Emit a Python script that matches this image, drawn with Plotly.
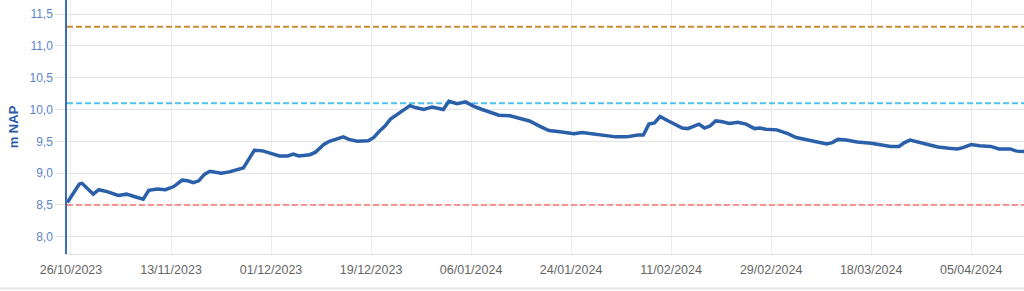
import plotly.graph_objects as go

dates = [
    "2023-10-25 08:00", "2023-10-27 12:00", "2023-10-28", "2023-10-30", "2023-10-31",
    "2023-11-01 12:00", "2023-11-03 12:00", "2023-11-05", "2023-11-06 12:00", "2023-11-08",
    "2023-11-09", "2023-11-10 12:00", "2023-11-12", "2023-11-13 12:00", "2023-11-15",
    "2023-11-16", "2023-11-17", "2023-11-18", "2023-11-19", "2023-11-20",
    "2023-11-22", "2023-11-23 12:00", "2023-11-26", "2023-11-27", "2023-11-28",
    "2023-11-29 12:00", "2023-12-01", "2023-12-02 12:00", "2023-12-04", "2023-12-05",
    "2023-12-06", "2023-12-08", "2023-12-09", "2023-12-10 12:00", "2023-12-11 12:00",
    "2023-12-13", "2023-12-14", "2023-12-15", "2023-12-16 12:00", "2023-12-18 12:00",
    "2023-12-19 12:00", "2023-12-20 12:00", "2023-12-21 12:00", "2023-12-22 12:00", "2023-12-23 12:00",
    "2023-12-24", "2023-12-25", "2023-12-26", "2023-12-27", "2023-12-28 12:00",
    "2023-12-30", "2024-01-01", "2024-01-02", "2024-01-03 12:00", "2024-01-05",
    "2024-01-06 12:00", "2024-01-08", "2024-01-09 12:00", "2024-01-11", "2024-01-13",
    "2024-01-14 12:00", "2024-01-16 12:00", "2024-01-18 12:00", "2024-01-20", "2024-01-22",
    "2024-01-24 12:00", "2024-01-26", "2024-01-28", "2024-01-30 12:00", "2024-02-01",
    "2024-02-03", "2024-02-05", "2024-02-06", "2024-02-07", "2024-02-08",
    "2024-02-09", "2024-02-10 12:00", "2024-02-12", "2024-02-13", "2024-02-14",
    "2024-02-15", "2024-02-16", "2024-02-17", "2024-02-18", "2024-02-19",
    "2024-02-20", "2024-02-21 12:00", "2024-02-23", "2024-02-24 12:00", "2024-02-26",
    "2024-02-27", "2024-02-28", "2024-03-01", "2024-03-03", "2024-03-04 12:00",
    "2024-03-07", "2024-03-09", "2024-03-10", "2024-03-11", "2024-03-12",
    "2024-03-13 12:00", "2024-03-15 12:00", "2024-03-18", "2024-03-20", "2024-03-21 12:00",
    "2024-03-23", "2024-03-24", "2024-03-25", "2024-03-26", "2024-03-28",
    "2024-03-30", "2024-04-01", "2024-04-02 12:00", "2024-04-03 12:00", "2024-04-05",
    "2024-04-06 12:00", "2024-04-08 12:00", "2024-04-10", "2024-04-12", "2024-04-13",
    "2024-04-14 12:00",
]

levels = [
    8.54, 8.83, 8.84, 8.67, 8.74,
    8.71, 8.65, 8.67, 8.63, 8.59,
    8.73, 8.75, 8.74, 8.79, 8.89,
    8.88, 8.85, 8.88, 8.98, 9.03,
    9.00, 9.02, 9.08, 9.22, 9.36,
    9.35, 9.31, 9.27, 9.27, 9.30,
    9.27, 9.29, 9.33, 9.45, 9.50,
    9.54, 9.57, 9.53, 9.50, 9.51,
    9.56, 9.66, 9.74, 9.85, 9.91,
    9.94, 10.01, 10.06, 10.03, 10.00,
    10.04, 10.00, 10.13, 10.09, 10.12,
    10.05, 10.00, 9.96, 9.91, 9.90,
    9.87, 9.82, 9.73, 9.67, 9.65,
    9.62, 9.64, 9.62, 9.59, 9.57,
    9.57, 9.60, 9.60, 9.77, 9.79,
    9.89, 9.82, 9.75, 9.71, 9.70,
    9.74, 9.77, 9.71, 9.74, 9.82,
    9.81, 9.78, 9.80, 9.77, 9.70,
    9.71, 9.69, 9.68, 9.62, 9.56,
    9.52, 9.48, 9.46, 9.48, 9.53,
    9.52, 9.49, 9.47, 9.44, 9.42,
    9.42, 9.48, 9.52, 9.50, 9.45,
    9.41, 9.39, 9.38, 9.40, 9.45,
    9.43, 9.42, 9.38, 9.38, 9.35,
    9.34,
]

threshold_levels = [11.3, 10.1, 8.5]
threshold_colors = ["#c98c33", "#4fc0ef", "#f4948c"]

x_range = ["2023-10-25 06:45", "2024-04-14 12:00"]
y_range = [7.73, 11.72]
x_tick0 = "2023-10-26"
x_dtick_days = 18

fig = go.Figure()

for lvl, col in zip(threshold_levels, threshold_colors):
    fig.add_trace(go.Scatter(
        x=x_range, y=[lvl, lvl], mode="lines",
        line=dict(color=col, width=2, dash="6px,3px"),
        hoverinfo="skip", showlegend=False,
    ))

fig.add_trace(go.Scatter(
    x=dates, y=levels, mode="lines",
    line=dict(color="#2a5fa9", width=3.5),
    showlegend=False,
))

fig.update_layout(
    width=1024, height=291,
    margin=dict(l=67, r=0, t=0, b=37),
    plot_bgcolor="white", paper_bgcolor="white",
    separators=",.",
    font=dict(family="Liberation Sans, Arial, sans-serif"),
    shapes=[dict(type="line", xref="paper", yref="paper",
                 x0=-0.1, x1=1.05, y0=-0.136, y1=-0.136,
                 line=dict(color="#e3e3e3", width=2))],
)

fig.update_xaxes(
    range=x_range, type="date",
    tick0=x_tick0, dtick=x_dtick_days * 86400000,
    tickformat="%d/%m/%Y",
    tickfont=dict(size=12.5, color="#666666"),
    showgrid=True, gridcolor="#ececec", gridwidth=1,
    showline=True, linecolor="#e3e3e3", linewidth=1,
    ticks="", zeroline=False,
    ticklabelstandoff=4,
)

fig.update_yaxes(
    range=y_range, dtick=0.5, tick0=8.0, tickformat=".1f",
    tickfont=dict(size=12, color="#5b84c6"),
    showgrid=True, gridcolor="#e3e3e3", gridwidth=1,
    ticks="outside", ticklen=10, tickcolor="#e3e3e3", tickwidth=1,
    showline=True, linecolor="#3d6cb8", linewidth=1.5,
    zeroline=False,
    title=dict(text="<b>m NAP</b>", font=dict(size=13, color="#2d5ca6"), standoff=8),
)

fig.write_html("out.html")
